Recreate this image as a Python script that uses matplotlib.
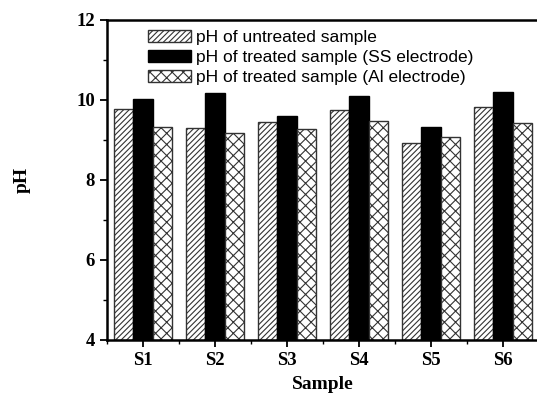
#pH of untreated vs treated samples, grouped bar chart

#imports
import numpy as np
import matplotlib.pyplot as plt

#data
samples = ['S1', 'S2', 'S3', 'S4', 'S5', 'S6']
ph_untreated = [9.78, 9.29, 9.46, 9.74, 8.92, 9.82]
ph_ss = [10.03, 10.18, 9.59, 10.11, 9.33, 10.20]
ph_al = [9.33, 9.18, 9.28, 9.48, 9.08, 9.43]
series_labels = ['pH of untreated sample',
                 'pH of treated sample (SS electrode)',
                 'pH of treated sample (Al electrode)']

plt.rcParams['hatch.linewidth'] = 0.8

fig = plt.figure(figsize=(5.37, 3.99), dpi=100)
ax = fig.add_axes([107/537, 59/399, 432/537, 320/399])

x = np.arange(1, len(samples) + 1)
w = 0.8 / 3
base = 4

#three bars per sample
ax.bar(x - w, np.array(ph_untreated) - base, w, bottom=base, color='white',
       edgecolor='#333333', hatch='//////', linewidth=1.0, label=series_labels[0])
ax.bar(x, np.array(ph_ss) - base, w, bottom=base, color='black',
       edgecolor='black', linewidth=1.0, label=series_labels[1])
ax.bar(x + w, np.array(ph_al) - base, w, bottom=base, color='white',
       edgecolor='#333333', hatch='xxx', linewidth=1.0, label=series_labels[2])

#axes
ax.set_xlim(0.5, 6.5)
ax.set_ylim(4, 12)
ax.set_xticks(x)
ax.set_xticks(np.arange(0.5, 7, 1), minor=True)
ax.set_yticks([4, 6, 8, 10, 12])
ax.set_yticks([5, 7, 9, 11], minor=True)
ax.set_xticklabels(samples)
for s in ax.spines.values():
    s.set_linewidth(1.8)
ax.tick_params(which='major', length=5, width=1.3, direction='out')
ax.tick_params(which='minor', length=3, width=1.0, direction='out')
for lab in ax.get_xticklabels() + ax.get_yticklabels():
    lab.set_fontfamily('Liberation Serif')
    lab.set_fontweight('bold')
    lab.set_fontsize(13.5)

ax.set_xlabel('Sample', family='Liberation Serif', fontweight='bold', fontsize=14, labelpad=5)
ax.set_ylabel('pH', family='Liberation Serif', fontweight='bold', fontsize=14, labelpad=33)

#legend
ax.legend(loc='upper left', bbox_to_anchor=(0.072, 1.0), frameon=False,
          prop={'family': 'Liberation Sans', 'size': 12.5},
          handlelength=2.5, handleheight=0.7, labelspacing=0.28, handletextpad=0.3,
          borderaxespad=0.15)

plt.savefig('out.png', dpi=100)
